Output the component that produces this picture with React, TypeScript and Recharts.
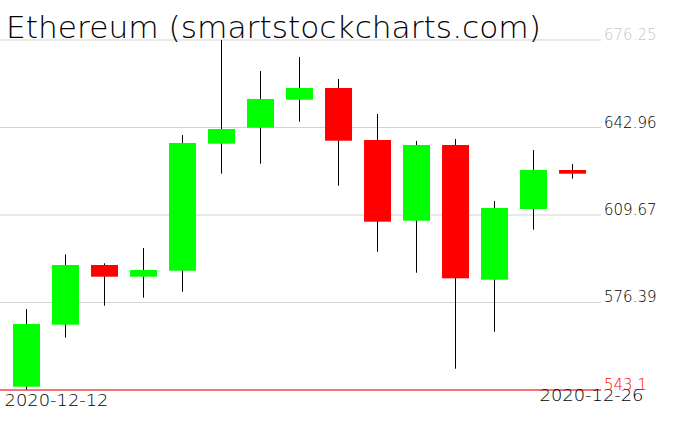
import React from 'react';
import { ComposedChart, Bar, XAxis, YAxis, CartesianGrid, ReferenceLine } from 'recharts';

const dates = ['2020-12-12','2020-12-13','2020-12-14','2020-12-15','2020-12-16','2020-12-17','2020-12-18','2020-12-19','2020-12-20','2020-12-21','2020-12-22','2020-12-23','2020-12-24','2020-12-25','2020-12-26'];
const opens = [544.35, 567.94, 590.65, 586.2, 588.48, 636.8, 642.89, 653.54, 657.99, 638.21, 607.51, 636.3, 585.06, 611.96, 626.79];
const highs = [573.91, 594.72, 591.3, 597.12, 640.11, 676.25, 664.46, 669.78, 661.41, 648.1, 637.83, 638.59, 615.0, 634.4, 629.08];
const lows = [543.1, 562.99, 575.17, 578.21, 580.5, 625.39, 629.19, 645.17, 620.82, 595.71, 587.72, 551.2, 565.28, 604.08, 623.48];
const closes = [568.21, 590.65, 586.2, 588.75, 637.07, 642.39, 653.8, 657.99, 637.94, 607.13, 636.3, 585.59, 612.34, 626.79, 625.39];

const yTicks = [543.1, 576.39, 609.67, 642.96, 676.25];
const yTickLabels = ['543.1', '576.39', '609.67', '642.96', '676.25'];
const xTickIdx = [0, 14];

const data = dates.map((d, i) => ({
  idx: i,
  date: d,
  open: opens[i],
  high: highs[i],
  low: lows[i],
  close: closes[i],
  range: [lows[i], highs[i]],
}));

const FONT = "'DejaVu Sans', sans-serif";

const Candle = (props: any) => {
  const { x, y, width, height, payload } = props;
  if (x == null || y == null) return null;
  const { open, close, high, low } = payload;
  const top = Math.min(y, y + height);
  const h = Math.abs(height);
  const ratio = h / (high - low);
  const bodyTop = top + (high - Math.max(open, close)) * ratio;
  const bodyH = Math.max(1, Math.abs(open - close) * ratio);
  const cx = Math.floor(x + width / 2) + 0.5;
  const color = close >= open ? '#00ff00' : '#ff0000';
  return (
    <g>
      <line x1={cx} x2={cx} y1={top} y2={top + h} stroke="#000" strokeWidth={1} />
      <rect x={x} y={bodyTop} width={width} height={bodyH} fill={color} />
    </g>
  );
};

const YTick = (props: any) => {
  const { x, y, payload } = props;
  const i = yTicks.indexOf(payload.value);
  const label = i >= 0 ? yTickLabels[i] : String(payload.value);
  let fill = '#000';
  if (i === yTicks.length - 1) fill = '#c8c8c8';
  if (i === 0) fill = '#ff0000';
  return (
    <text x={x} y={y} dy={0} textAnchor="start" fontFamily={FONT} fontSize={15} fontWeight={200} fill={fill}>
      {label}
    </text>
  );
};

const XTick = (props: any) => {
  const { x, y, payload } = props;
  const i = payload.value;
  const first = i === 0;
  return (
    <text
      x={first ? x - 22 : x + 71}
      y={first ? y + 16 : y + 11}
      textAnchor={first ? 'start' : 'end'}
      fontFamily={FONT}
      fontSize={15}
      fontWeight={200}
      fill="#000"
      textLength={104}
      lengthAdjust="spacingAndGlyphs"
    >
      {dates[i]}
    </text>
  );
};

export default function App() {
  return (
    <div style={{ position: 'absolute', left: 0, top: 0, width: 676, height: 431, background: '#fff' }}>
      <ComposedChart width={676} height={431} data={data} margin={{ top: 40, right: 0, bottom: 0, left: 0 }}>
        <CartesianGrid horizontal vertical={false} stroke="#d3d3d3" />
        <XAxis
          dataKey="idx"
          type="number"
          domain={[-0.68, 14.73]}
          allowDataOverflow
          ticks={xTickIdx}
          tick={<XTick />}
          axisLine={false}
          tickLine={false}
          tickSize={0}
          tickMargin={0}
          height={41}
          interval={0}
        />
        <YAxis
          orientation="right"
          domain={[543.1, 676.25]}
          ticks={yTicks}
          tick={<YTick />}
          axisLine={false}
          tickLine={false}
          tickSize={0}
          tickMargin={3}
          width={75}
          allowDataOverflow
          interval={0}
        />
        <ReferenceLine y={543.1} stroke="#ff0000" strokeWidth={1} />
        <Bar dataKey="range" barSize={27} shape={<Candle />} isAnimationActive={false} />
      </ComposedChart>
      <svg width={676} height={60} style={{ position: 'absolute', left: 0, top: 0, pointerEvents: 'none' }}>
        <text x={6} y={38} fontFamily={FONT} fontSize={30} fontWeight={200} fill="#000" textLength={535} lengthAdjust="spacingAndGlyphs">
          Ethereum (smartstockcharts.com)
        </text>
      </svg>
    </div>
  );
}
